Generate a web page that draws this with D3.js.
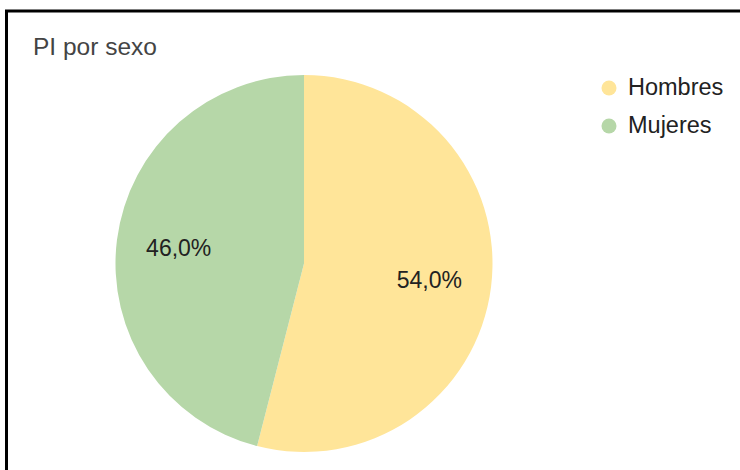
<!DOCTYPE html>
<html>
<head>
<meta charset="utf-8">
<script src="https://cdn.jsdelivr.net/npm/d3@7"></script>
<style>
  html, body { margin: 0; padding: 0; background: #fff; }
  svg { display: block; font-family: "Liberation Sans", Arial, sans-serif; }
</style>
</head>
<body>
<svg id="chart" width="740" height="470"></svg>
<script>
// Distribución por sexo
const categories = ["Hombres", "Mujeres"];
const values = [54.0, 46.0];
const colors = ["#ffe599", "#b6d7a8"];
const title = "PI por sexo";

const svg = d3.select("#chart");
const W = 740, H = 470;

// Marco del panel
svg.append("rect").attr("width", W).attr("height", H).attr("fill", "#fff");
svg.append("path")
  .attr("d", `M6.5,${H} L6.5,11 L${W},11`)
  .attr("fill", "none").attr("stroke", "#000").attr("stroke-width", 3);

svg.append("text")
  .attr("x", 33).attr("y", 55)
  .attr("font-size", 24.5).attr("fill", "#444")
  .text(title);

const data = categories.map((c, i) => ({ name: c, value: values[i], color: colors[i] }));
const cx = 304, cy = 263.5, R = 188.5;

const pie = d3.pie().value(d => d.value).sort(null);
const arcs = pie(data);
const arc = d3.arc().innerRadius(0).outerRadius(R);
const labelArc = d3.arc().innerRadius(R * 0.67).outerRadius(R * 0.67);

const g = svg.append("g").attr("transform", `translate(${cx},${cy})`);
g.selectAll("path.slice").data(arcs).join("path")
  .attr("class", "slice")
  .attr("d", arc)
  .attr("fill", d => d.data.color);

const fmt = v => d3.format(".1f")(v).replace(".", ",") + "%";
const total = d3.sum(values);
g.selectAll("text.pct").data(arcs).join("text")
  .attr("class", "pct")
  .attr("transform", d => `translate(${labelArc.centroid(d)})`)
  .attr("text-anchor", "middle").attr("dy", "0.36em")
  .attr("font-size", 23).attr("fill", "#222")
  .text(d => fmt(d.data.value / total * 100));

// Leyenda
const legend = svg.append("g").attr("transform", "translate(609,88)");
const item = legend.selectAll("g").data(data).join("g")
  .attr("transform", (d, i) => `translate(0,${i * 38})`);
item.append("circle").attr("r", 7.5).attr("fill", d => d.color);
item.append("text")
  .attr("x", 19).attr("y", 7)
  .attr("font-size", 23.5).attr("fill", "#222")
  .text(d => d.name);
</script>
</body>
</html>
